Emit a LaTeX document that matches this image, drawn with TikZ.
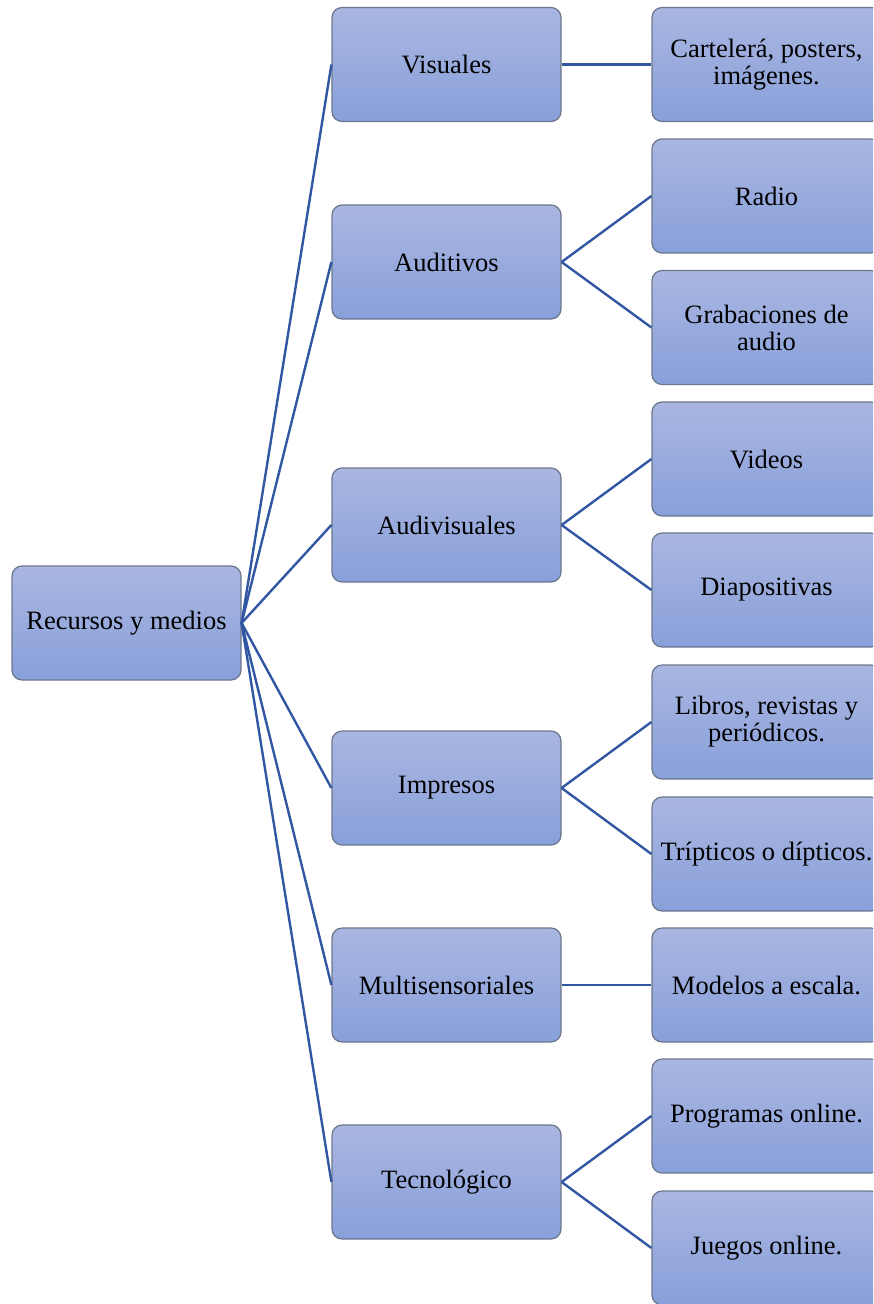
\documentclass[tikz,border=0pt]{standalone}
\usepackage{fontspec}
\setmainfont{Liberation Serif}
\usetikzlibrary{positioning}
\definecolor{boxtop}{HTML}{AAB6E1}
\definecolor{boxbot}{HTML}{88A0DA}
\definecolor{boxline}{HTML}{6B768C}
\definecolor{linkblue}{HTML}{3157A3}
\tikzset{
	caja/.style={rectangle,rounded corners=10pt,draw=boxline,line width=1.2pt,
		top color=boxtop,bottom color=boxbot,minimum width=229pt,minimum height=114pt,
		align=center,font=\fontsize{26.5}{27}\selectfont,inner sep=0pt},
	enlace/.style={draw=linkblue,line width=2.4pt}
}

\begin{document}
\begin{tikzpicture}[x=1pt,y=-1pt]
	\clip (0,0) rectangle (873,1304);
	
	\node[caja] (raiz) at (126.5,623) {Recursos y medios};
	
	\node[caja] (vis) at (446.5,64.5) {Visuales};
	\node[caja] (aud) at (446.5,262) {Auditivos};
	\node[caja] (audvis) at (446.5,525) {Audivisuales};
	\node[caja] (imp) at (446.5,788) {Impresos};
	\node[caja] (multi) at (446.5,985) {Multisensoriales};
	\node[caja] (tec) at (446.5,1182) {Tecnológico};
	
	\node[caja] (cart) at (766.5,64.5) {Cartelerá, posters,\\imágenes.};
	\node[caja] (radio) at (766.5,196) {Radio};
	\node[caja] (grab) at (766.5,327.5) {Grabaciones de\\audio};
	\node[caja] (vid) at (766.5,459) {Videos};
	\node[caja] (diap) at (766.5,590) {Diapositivas};
	\node[caja] (libros) at (766.5,722) {Libros, revistas y\\periódicos.};
	\node[caja] (trip) at (766.5,854) {Trípticos o dípticos.};
	\node[caja] (mod) at (766.5,985) {Modelos a escala.};
	\node[caja] (prog) at (766.5,1116) {Programas online.};
	\node[caja] (juegos) at (766.5,1248) {Juegos online.};
	
	\foreach \m in {vis,aud,audvis,imp,multi,tec}
		\draw[enlace] (raiz.east) -- (\m.west);
	
	\draw[enlace] (vis.east) -- (cart.west);
	\draw[enlace] (aud.east) -- (radio.west);
	\draw[enlace] (aud.east) -- (grab.west);
	\draw[enlace] (audvis.east) -- (vid.west);
	\draw[enlace] (audvis.east) -- (diap.west);
	\draw[enlace] (imp.east) -- (libros.west);
	\draw[enlace] (imp.east) -- (trip.west);
	\draw[enlace] (multi.east) -- (mod.west);
	\draw[enlace] (tec.east) -- (prog.west);
	\draw[enlace] (tec.east) -- (juegos.west);
	
\end{tikzpicture}
\end{document}
